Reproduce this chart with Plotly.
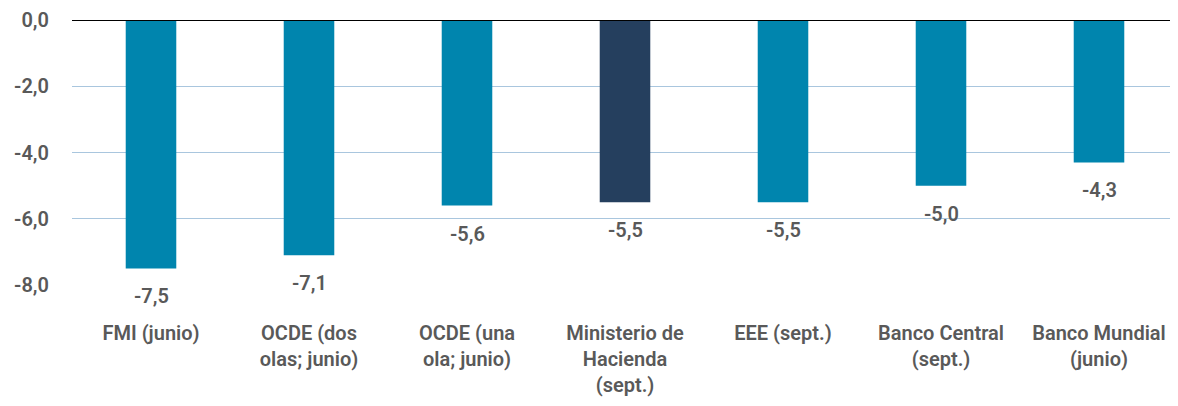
import plotly.graph_objects as go

categories = ["FMI (junio)", "OCDE (dos<br>olas; junio)", "OCDE (una<br>ola; junio)",
              "Ministerio de<br>Hacienda<br>(sept.)", "EEE (sept.)", "Banco Central<br>(sept.)",
              "Banco Mundial<br>(junio)"]
values = [-7.5, -7.1, -5.6, -5.5, -5.5, -5.0, -4.3]
labels = ["-7,5", "-7,1", "-5,6", "-5,5", "-5,5", "-5,0", "-4,3"]
colors = ["#0085AE", "#0085AE", "#0085AE", "#253F5E", "#0085AE", "#0085AE", "#0085AE"]
ytick_vals = [0, -2, -4, -6, -8]
ytick_text = ["0,0", "-2,0", "-4,0", "-6,0", "-8,0"]

grey = "#595959"
FONT = "Roboto"
W = 600
fig = go.Figure()
fig.add_trace(go.Bar(
    x=categories, y=values, marker=dict(color=colors, line=dict(width=0)),
    width=0.32, hoverinfo="skip",
))
for c, v, t in zip(categories, values, labels):
    fig.add_annotation(x=c, y=v, text=t, showarrow=False, yanchor="middle",
                       yshift=-28, font=dict(family=FONT, size=20, color=grey, weight=W))
fig.update_layout(
    width=1170, height=398, margin=dict(l=64, r=0, t=9, b=121),
    paper_bgcolor="white", plot_bgcolor="white", showlegend=False,
    font=dict(family=FONT, color=grey, weight=W),
)
fig.update_xaxes(showgrid=False, showline=False, zeroline=False,
                 tickfont=dict(family=FONT, size=20, color=grey, weight=W),
                 ticklabelstandoff=34, ticklabeloverflow="allow")
fig.update_yaxes(range=[-8, 0], tickvals=ytick_vals, ticktext=ytick_text,
                 showgrid=True, gridcolor="#A9C6DE", gridwidth=1,
                 zeroline=False, showline=False,
                 tickfont=dict(family=FONT, size=20, color=grey, weight=W),
                 ticklabelstandoff=22, ticklabeloverflow="allow")
fig.add_hline(y=0, line=dict(color="black", width=2))
fig.write_html("out.html")
